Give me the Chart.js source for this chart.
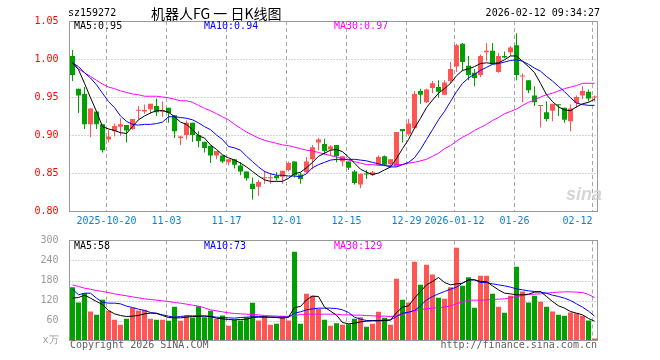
<!DOCTYPE html>
<html>
<head>
<meta charset="utf-8">
<script src="https://cdn.jsdelivr.net/npm/chart.js@4.4.1/dist/chart.umd.min.js"></script>
<style>
  html, body { margin: 0; padding: 0; background: #fff; }
  #wrap { position: relative; width: 660px; height: 360px; overflow: hidden; font-family: "DejaVu Sans Mono", monospace; font-size: 10px; }
  #wrap canvas { position: absolute; left: 0; }
  #priceChart { top: 0; }
  #volChart { top: 230px; }
  .t { position: absolute; white-space: pre; line-height: 12px; }
</style>
</head>
<body>
<div id="wrap">
  <canvas id="priceChart" width="660" height="230"></canvas>
  <canvas id="volChart" width="660" height="130"></canvas>
  <div class="t" style="left:68px;top:7px;color:#000;">sz159272</div>
  <div class="t" style="left:151px;top:4px;font:14px 'Noto Sans CJK SC';line-height:18px;color:#000;">机器人FG 一 日K线图</div>
  <div class="t" style="right:60px;top:7px;color:#000;">2026-02-12 09:34:27</div>
  <div class="t" id="pMa5" style="left:74px;top:20px;color:#000;"></div>
  <div class="t" id="pMa10" style="left:204px;top:20px;color:#0000ff;"></div>
  <div class="t" id="pMa30" style="left:334px;top:20px;color:#ff00ff;"></div>
  <div class="t" id="vMa5" style="left:74px;top:240px;color:#000;"></div>
  <div class="t" id="vMa10" style="left:204px;top:240px;color:#0000ff;"></div>
  <div class="t" id="vMa30" style="left:334px;top:240px;color:#ff00ff;"></div>
  <div class="t" style="left:566px;top:184px;font:italic bold 18px 'Liberation Sans';line-height:20px;color:#d6d6d6;">sina</div>
  <div class="t" style="left:70px;top:339px;color:#606060;">Copyright 2026 SINA.COM</div>
  <div class="t" style="right:63px;top:339px;color:#606060;">http://finance.sina.com.cn</div>
</div>
<script>
// trading days shown
const dates = [
  '2025-10-10','2025-10-13','2025-10-14','2025-10-15','2025-10-16','2025-10-17','2025-10-20','2025-10-21','2025-10-22','2025-10-23',
  '2025-10-24','2025-10-27','2025-10-28','2025-10-29','2025-10-30','2025-10-31','2025-11-03','2025-11-04','2025-11-05','2025-11-06',
  '2025-11-07','2025-11-10','2025-11-11','2025-11-12','2025-11-13','2025-11-14','2025-11-17','2025-11-18','2025-11-19','2025-11-20',
  '2025-11-21','2025-11-24','2025-11-25','2025-11-26','2025-11-27','2025-11-28','2025-12-01','2025-12-02','2025-12-03','2025-12-04',
  '2025-12-05','2025-12-08','2025-12-09','2025-12-10','2025-12-11','2025-12-12','2025-12-15','2025-12-16','2025-12-17','2025-12-18',
  '2025-12-19','2025-12-22','2025-12-23','2025-12-24','2025-12-25','2025-12-26','2025-12-29','2025-12-30','2025-12-31','2026-01-05',
  '2026-01-06','2026-01-07','2026-01-08','2026-01-09','2026-01-12','2026-01-13','2026-01-14','2026-01-15','2026-01-16','2026-01-19',
  '2026-01-20','2026-01-21','2026-01-22','2026-01-23','2026-01-26','2026-01-27','2026-01-28','2026-01-29','2026-01-30','2026-02-02',
  '2026-02-03','2026-02-04','2026-02-05','2026-02-06','2026-02-09','2026-02-10','2026-02-11','2026-02-12'
];

const opens = [
  1.004,0.961,0.954,0.914,0.931,0.914,0.894,0.905,0.911,0.913,
  0.908,0.932,0.931,0.934,0.938,0.931,0.936,0.926,0.896,0.900,
  0.916,0.900,0.891,0.886,0.873,0.873,0.864,0.868,0.860,0.852,
  0.836,0.832,0.843,0.843,0.846,0.845,0.854,0.865,0.848,0.851,
  0.868,0.890,0.888,0.881,0.887,0.865,0.865,0.852,0.835,0.849,
  0.847,0.861,0.872,0.862,0.859,0.908,0.901,0.909,0.958,0.943,
  0.962,0.963,0.953,0.971,0.990,1.020,0.991,0.982,0.979,1.009,
  1.011,0.983,1.004,1.009,1.018,0.977,0.972,0.952,0.938,0.930,
  0.932,0.940,0.936,0.918,0.942,0.952,0.957,0.9495
];
const highs = [
  1.012,0.961,0.963,0.935,0.931,0.914,0.907,0.915,0.922,0.913,
  0.921,0.938,0.940,0.941,0.948,0.944,0.936,0.926,0.899,0.919,
  0.916,0.905,0.891,0.886,0.879,0.873,0.868,0.868,0.864,0.852,
  0.844,0.841,0.853,0.850,0.851,0.853,0.865,0.865,0.851,0.871,
  0.887,0.896,0.895,0.887,0.887,0.872,0.865,0.854,0.849,0.854,
  0.853,0.873,0.873,0.868,0.904,0.908,0.921,0.958,0.961,0.961,
  0.971,0.972,0.972,0.996,1.020,1.021,1.004,0.987,1.006,1.021,
  1.021,1.008,1.010,1.017,1.034,0.981,0.972,0.964,0.939,0.944,
  0.941,0.940,0.936,0.940,0.952,0.964,0.960,0.952
];
const lows = [
  0.971,0.929,0.908,0.897,0.908,0.877,0.890,0.898,0.899,0.890,
  0.907,0.920,0.928,0.928,0.925,0.924,0.916,0.896,0.887,0.894,
  0.891,0.884,0.877,0.863,0.868,0.863,0.860,0.856,0.847,0.840,
  0.815,0.820,0.836,0.836,0.840,0.836,0.852,0.844,0.836,0.849,
  0.855,0.880,0.874,0.873,0.864,0.859,0.854,0.835,0.830,0.842,
  0.846,0.860,0.859,0.857,0.859,0.890,0.899,0.908,0.941,0.942,
  0.955,0.949,0.953,0.968,0.983,0.984,0.972,0.964,0.976,0.997,
  0.993,0.982,1.001,1.004,0.972,0.943,0.955,0.938,0.910,0.918,
  0.918,0.925,0.916,0.905,0.936,0.947,0.944,0.944
];
const closes = [
  0.979,0.952,0.914,0.935,0.914,0.880,0.898,0.912,0.914,0.906,
  0.921,0.933,0.933,0.941,0.930,0.933,0.929,0.905,0.898,0.916,
  0.900,0.892,0.883,0.873,0.879,0.865,0.868,0.861,0.852,0.843,
  0.829,0.838,0.844,0.844,0.843,0.853,0.863,0.847,0.842,0.865,
  0.884,0.894,0.879,0.885,0.872,0.872,0.857,0.837,0.849,0.848,
  0.851,0.871,0.861,0.868,0.904,0.905,0.915,0.954,0.953,0.960,
  0.968,0.957,0.969,0.987,1.018,0.996,0.979,0.975,1.004,1.011,
  0.993,1.004,1.002,1.015,0.979,0.977,0.959,0.943,0.938,0.921,
  0.941,0.939,0.920,0.935,0.950,0.958,0.948,0.950
];

// moving average lines
const ma5 = [
  0.995,0.986,0.968,0.949,0.931,0.911,0.908,0.906,0.903,0.902,
  0.911,0.920,0.925,0.929,0.932,0.932,0.930,0.924,0.917,0.914,
  0.907,0.899,0.896,0.887,0.881,0.874,0.870,0.867,0.863,0.858,
  0.852,0.846,0.841,0.839,0.839,0.839,0.843,0.849,0.851,0.857,
  0.864,0.872,0.876,0.880,0.881,0.878,0.871,0.863,0.855,0.851,
  0.848,0.850,0.854,0.858,0.869,0.882,0.894,0.909,0.922,0.936,
  0.946,0.955,0.961,0.968,0.978,0.985,0.987,0.990,0.994,0.995,
  0.994,0.995,0.999,1.004,1.004,0.997,0.990,0.982,0.968,0.953,
  0.944,0.937,0.933,0.932,0.937,0.941,0.943,0.947
];
const ma10 = [
  0.995,0.990,0.982,0.975,0.966,0.955,0.944,0.936,0.925,0.918,
  0.914,0.913,0.914,0.914,0.915,0.917,0.924,0.924,0.923,0.922,
  0.920,0.916,0.911,0.907,0.900,0.894,0.885,0.883,0.880,0.872,
  0.865,0.858,0.852,0.849,0.847,0.847,0.846,0.846,0.845,0.849,
  0.857,0.861,0.864,0.867,0.868,0.868,0.868,0.868,0.867,0.866,
  0.864,0.862,0.860,0.858,0.858,0.861,0.864,0.870,0.881,0.894,
  0.907,0.920,0.931,0.944,0.957,0.968,0.975,0.980,0.985,0.989,
  0.993,0.994,0.996,0.998,0.999,0.997,0.993,0.988,0.984,0.977,
  0.971,0.964,0.957,0.949,0.942,0.940,0.939,0.939
];
const ma30 = [
  0.995,0.987,0.982,0.977,0.972,0.967,0.963,0.961,0.958,0.956,
  0.954,0.953,0.951,0.951,0.951,0.950,0.949,0.947,0.945,0.945,
  0.943,0.939,0.935,0.932,0.928,0.924,0.920,0.914,0.909,0.904,
  0.900,0.896,0.893,0.891,0.889,0.887,0.886,0.884,0.882,0.880,
  0.879,0.877,0.875,0.873,0.871,0.869,0.867,0.865,0.863,0.861,
  0.861,0.860,0.860,0.860,0.861,0.861,0.863,0.864,0.866,0.868,
  0.872,0.876,0.882,0.886,0.892,0.897,0.901,0.906,0.910,0.914,
  0.919,0.923,0.928,0.931,0.934,0.939,0.943,0.946,0.950,0.953,
  0.955,0.958,0.961,0.963,0.965,0.968,0.968,0.968
];

// volume, in 10k
const volumes = [
  160,114,142,87,77,122,89,62,47,65,
  98,90,92,65,62,62,59,101,59,75,
  69,103,70,89,65,75,44,62,60,70,
  113,60,74,47,50,74,60,266,50,140,
  134,95,62,44,52,47,49,65,70,41,
  50,86,68,47,185,122,114,236,167,227,
  198,128,125,160,278,164,190,98,194,194,
  140,101,83,134,221,147,114,134,116,101,
  87,77,74,84,82,74,60,6
];
const volMa5 = [
  127,129,136,127,117,108,90,80,75,72,
  73,75,80,82,82,75,69,68,68,70,
  72,72,74,72,67,65,63,62,63,64,
  69,70,70,70,69,67,70,99,102,122,
  133,132,100,88,76,54,50,52,56,58,
  59,59,60,61,84,100,104,127,147,167,
  177,189,174,167,170,172,182,182,177,177,
  164,152,142,140,137,137,139,145,147,132,
  117,104,97,87,82,77,66,58
];
const volMa10 = [
  154,137,142,142,127,115,112,112,110,103,
  99,94,90,84,81,77,73,70,72,74,
  74,74,73,72,70,69,68,67,69,70,
  71,72,71,70,70,70,70,82,86,92,
  95,97,97,97,96,92,84,70,64,60,
  60,60,61,62,72,82,85,90,104,122,
  132,140,147,154,160,172,182,182,174,174,
  170,167,164,160,155,152,149,147,145,142,
  136,132,127,120,110,100,88,73
];
const volMa30 = [
  167,162,157,154,150,147,144,140,137,134,
  131,128,125,123,121,119,117,114,112,109,
  106,103,98,92,89,86,83,81,80,79,
  78,77,75,74,73,72,73,75,78,79,
  79,79,79,79,79,77,77,76,76,75,
  74,73,73,72,74,79,84,90,93,95,
  97,99,100,104,110,116,121,121,121,122,
  123,124,125,128,132,135,138,139,140,142,
  144,145,146,146,145,144,138,129
];

const tickDates = ['2025-10-20','2025-11-03','2025-11-17','2025-12-01','2025-12-15','2025-12-29','2026-01-12','2026-01-26','2026-02-12'];
const tickLabels = ['2025-10-20','11-03','11-17','12-01','12-15','12-29','2026-01-12','01-26','02-12'];
const priceTicks = [0.80, 0.85, 0.90, 0.95, 1.00, 1.05];
const volTicks = [0, 60, 120, 180, 240, 300];
const priceLegend = ['MA5:0.95', 'MA10:0.94', 'MA30:0.97'];
const volLegend = ['MA5:58', 'MA10:73', 'MA30:129'];

const UP = '#ff5555';
const DOWN = '#00a000';
const GRID = '#a8a8a8';
const FONT = 'DejaVu Sans Mono';

const tickIdx = tickDates.map(d => dates.indexOf(d));
const barColors = closes.map((c, i) => c >= opens[i] ? UP : DOWN);

document.getElementById('pMa5').textContent = priceLegend[0];
document.getElementById('pMa10').textContent = priceLegend[1];
document.getElementById('pMa30').textContent = priceLegend[2];
document.getElementById('vMa5').textContent = volLegend[0];
document.getElementById('vMa10').textContent = volLegend[1];
document.getElementById('vMa30').textContent = volLegend[2];

// dotted value lines and dashed date lines, placed through the chart's scales
function gridPlugin(values) {
    return {
        id: 'sinaGrid',
        beforeDatasetsDraw(chart) {
            const ctx = chart.ctx;
            const a = chart.chartArea;
            const x = chart.scales.x, y = chart.scales.y;
            ctx.save();
            ctx.strokeStyle = GRID;
            ctx.lineWidth = 1;
            ctx.setLineDash([1, 2]);
            values.slice(1, -1).forEach(v => {
                const py = Math.round(y.getPixelForValue(v)) + 0.5;
                ctx.beginPath();
                ctx.moveTo(a.left, py);
                ctx.lineTo(a.right, py);
                ctx.stroke();
            });
            ctx.setLineDash([4, 3]);
            tickIdx.forEach(idx => {
                const px = Math.floor(x.getPixelForValue(idx) - 2) + 0.5;
                ctx.beginPath();
                ctx.moveTo(px, a.top);
                ctx.lineTo(px, a.bottom);
                ctx.stroke();
            });
            ctx.restore();
        }
    };
}

const framePlugin = {
    id: 'frame',
    afterDraw(chart) {
        const a = chart.chartArea;
        const ctx = chart.ctx;
        const l = Math.floor(a.left) + 0.5, t = Math.floor(a.top) + 0.5;
        const r = Math.floor(a.right) + 0.5, b = Math.floor(a.bottom) + 0.5;
        ctx.save();
        ctx.strokeStyle = '#999999';
        ctx.lineWidth = 1;
        ctx.strokeRect(l, t, r - l, b - t);
        ctx.restore();
    }
};

const xLabelPlugin = {
    id: 'xLabels',
    afterDraw(chart) {
        const ctx = chart.ctx;
        const x = chart.scales.x;
        const a = chart.chartArea;
        ctx.save();
        ctx.font = '10px "' + FONT + '"';
        ctx.fillStyle = '#0a82d2';
        ctx.textBaseline = 'middle';
        ctx.textAlign = 'left';
        tickIdx.forEach((idx, k) => {
            const px = x.getPixelForValue(idx) - 2;
            const w = ctx.measureText(tickLabels[k]).width;
            let left = px - w / 2;
            if (left + w > a.right) left = px - w;
            ctx.fillText(tickLabels[k], left, a.bottom + 10);
        });
        ctx.restore();
    }
};

function lineSet(data, color) {
    return { type: 'line', data: data, borderColor: color, borderWidth: 1, pointRadius: 0, tension: 0, order: 0 };
}

function xScale(h) {
    return {
        offset: true,
        grid: { display: false },
        border: { display: false },
        ticks: { display: false, autoSkip: false },
        afterFit: s => { s.height = h; }
    };
}

function yScale(values, color, fmt) {
    return {
        min: values[0],
        max: values[values.length - 1],
        afterBuildTicks: s => { s.ticks = values.map(v => ({ value: v })); },
        ticks: {
            callback: fmt,
            color: color,
            font: { family: FONT, size: 10 },
            padding: 3
        },
        grid: { display: false },
        border: { display: false },
        afterFit: s => { s.width = 69.5; }
    };
}

const priceChart = new Chart(document.getElementById('priceChart'), {
    type: 'bar',
    data: {
        labels: dates,
        datasets: [
            lineSet(ma5, '#000000'),
            lineSet(ma10, '#0000ff'),
            lineSet(ma30, '#ff00ff'),
            {
                data: lows.map((l, i) => [l, highs[i]]),
                backgroundColor: barColors,
                barThickness: 1,
                grouped: false,
                inflateAmount: 0,
                order: 2
            },
            {
                data: opens.map((o, i) => [o, closes[i]]),
                backgroundColor: barColors,
                barThickness: 5,
                minBarLength: 1,
                grouped: false,
                inflateAmount: 0,
                order: 1
            }
        ]
    },
    options: {
        responsive: false,
        animation: false,
        events: [],
        layout: { padding: { top: 21, right: 62.5, bottom: 0, left: 0 } },
        plugins: { legend: { display: false }, tooltip: { enabled: false } },
        scales: {
            x: xScale(19),
            y: yScale(priceTicks, '#ff0000', v => v.toFixed(2))
        }
    },
    plugins: [gridPlugin(priceTicks), framePlugin, xLabelPlugin]
});

const volChart = new Chart(document.getElementById('volChart'), {
    type: 'bar',
    data: {
        labels: dates,
        datasets: [
            lineSet(volMa5, '#000000'),
            lineSet(volMa10, '#0000ff'),
            lineSet(volMa30, '#ff00ff'),
            {
                data: volumes,
                backgroundColor: barColors,
                barThickness: 5,
                grouped: false,
                inflateAmount: 0,
                order: 1
            }
        ]
    },
    options: {
        responsive: false,
        animation: false,
        events: [],
        layout: { padding: { top: 10.5, right: 62.5, bottom: 0, left: 0 } },
        plugins: { legend: { display: false }, tooltip: { enabled: false } },
        scales: {
            x: xScale(19.5),
            y: yScale(volTicks, '#999999', v => v === 0 ? 'x万' : String(v))
        }
    },
    plugins: [gridPlugin(volTicks), framePlugin]
});
</script>
</body>
</html>
